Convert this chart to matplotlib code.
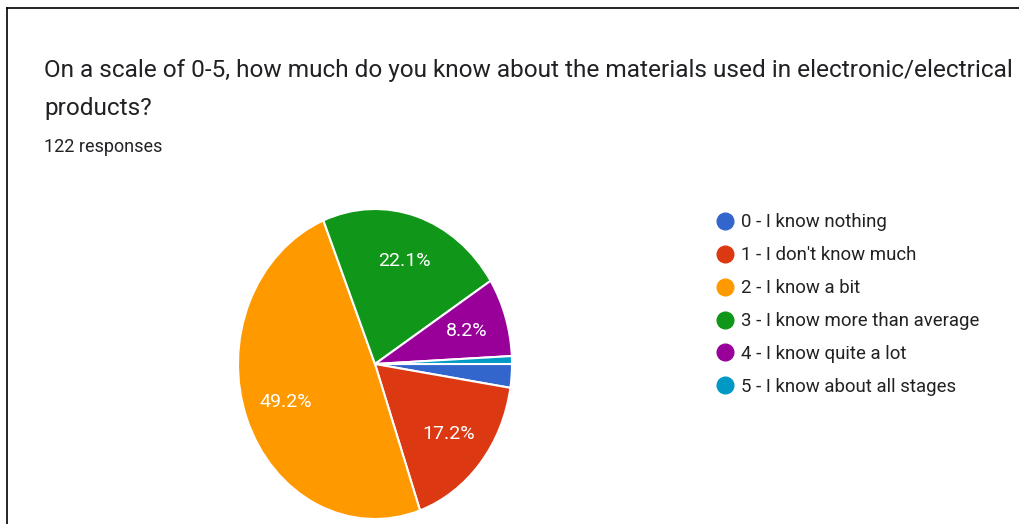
import matplotlib
matplotlib.use("Agg")
import matplotlib.pyplot as plt
from matplotlib.lines import Line2D

# survey answers (122 responses)
labels = ["0 - I know nothing", "1 - I don't know much", "2 - I know a bit",
          "3 - I know more than average", "4 - I know quite a lot",
          "5 - I know about all stages"]
counts = [3, 21, 60, 27, 10, 1]
colors = ["#3366cc", "#dc3912", "#ff9900", "#109618", "#990099", "#0099c6"]

title = "On a scale of 0-5, how much do you know about the materials used in electronic/electrical\nproducts?"
subtitle = "122 responses"

plt.rcParams["font.family"] = ["Roboto", "DejaVu Sans"]

W, H = 1020, 524
fig = plt.figure(figsize=(W / 100, H / 100), dpi=100)

# pie is drawn slightly squashed horizontally, like the screenshot
cx, cy, rx, ry = 375, 364, 137, 155
ax = fig.add_axes([(cx - rx) / W, (H - cy - ry) / H, 2 * rx / W, 2 * ry / H])


def pct_text(p):
    # small slices get no label
    return f"{p:.1f}%" if p >= 5 else ""


wedges, _, autotexts = ax.pie(counts, colors=colors, startangle=0, counterclock=False,
                              autopct=pct_text, pctdistance=0.7,
                              wedgeprops=dict(edgecolor="white", linewidth=1.5),
                              textprops=dict(color="white", fontsize=14))
ax.set_aspect("auto")
ax.set_xlim(-1, 1)
ax.set_ylim(-1, 1)
ax.axis("off")

fig.text(44 / W, 1 - 59 / H, title, fontsize=17.6, color="#202124",
         ha="left", va="top", linespacing=1.85)
fig.text(44 / W, 1 - 138 / H, subtitle, fontsize=13, color="#202124",
         ha="left", va="top")

handles = [Line2D([], [], marker="o", linestyle="none", markersize=12,
                  markerfacecolor=c, markeredgecolor=c) for c in colors]
fig.legend(handles, labels, loc="upper left", bbox_to_anchor=(706 / W, 1 - 206 / H),
           frameon=False, fontsize=13.4, labelspacing=0.8, handletextpad=0.3,
           handlelength=1.2, labelcolor="#222222", borderaxespad=0)

# screenshot frame
fig.add_artist(Line2D([7 / W, 1], [1 - 8 / H, 1 - 8 / H], color="black", lw=1.2))
fig.add_artist(Line2D([7 / W, 7 / W], [0, 1 - 8 / H], color="black", lw=1.2))

fig.savefig("out.png", dpi=100)
